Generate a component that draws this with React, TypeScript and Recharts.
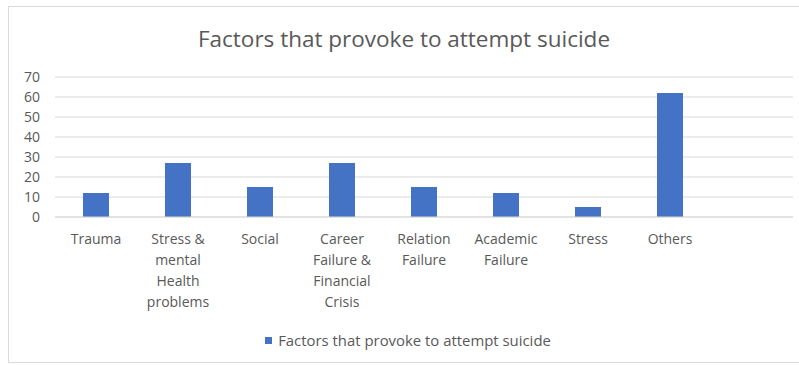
import { Bar, BarChart, CartesianGrid, Legend, Text, XAxis, YAxis } from "recharts";

const categories = [
  "Trauma",
  "Stress & mental Health problems",
  "Social",
  "Career Failure & Financial Crisis",
  "Relation Failure",
  "Academic Failure",
  "Stress",
  "Others",
  "",
];
const values: (number | null)[] = [12, 27, 15, 27, 15, 12, 5, 62, null];
const yTicks = [0, 10, 20, 30, 40, 50, 60, 70];

const seriesName = "Factors that provoke to attempt suicide";
const font = "'Open Sans', Lato, sans-serif";
const textColor = "#595959";
const barColor = "#4472C4";
const gridColor = "#d9d9d9";

const data = categories.map((name, i) => ({ name, value: values[i] }));

function CategoryTick(props: any) {
  const { x, y, payload } = props;
  return (
    <Text
      x={x}
      y={y}
      width={72}
      textAnchor="middle"
      verticalAnchor="start"
      lineHeight={21}
      fill={textColor}
      fontSize={14}
      fontFamily={font}
    >
      {payload.value}
    </Text>
  );
}

function LegendBox() {
  return (
    <div
      style={{
        height: 20,
        display: "flex",
        alignItems: "center",
        justifyContent: "center",
        paddingLeft: 14,
        fontFamily: font,
        fontSize: 14.9,
        color: textColor,
      }}
    >
      <span style={{ width: 7, height: 7, background: barColor, marginRight: 6 }} />
      {seriesName}
    </div>
  );
}

export default function App() {
  return (
    <div
      style={{
        position: "absolute",
        left: 8,
        top: 6,
        width: 791,
        height: 357,
        boxSizing: "border-box",
        borderTop: `1px solid ${gridColor}`,
        borderLeft: `1px solid ${gridColor}`,
        borderBottom: `1px solid ${gridColor}`,
        background: "#fff",
        overflow: "hidden",
      }}
    >
      <div
        style={{
          position: "absolute",
          top: 17,
          left: 0,
          width: 790,
          lineHeight: "30px",
          textAlign: "center",
          fontFamily: font,
          fontSize: 22.5,
          color: textColor,
        }}
      >
        {seriesName}
      </div>
      <BarChart
        width={790}
        height={355}
        data={data}
        margin={{ top: 70, right: 6, bottom: 12, left: 0 }}
      >
        <CartesianGrid vertical={false} stroke={gridColor} />
        <XAxis
          dataKey="name"
          interval={0}
          height={113}
          axisLine={{ stroke: gridColor }}
          tickLine={false}
          tick={<CategoryTick />}
          tickMargin={11}
        />
        <YAxis
          width={46}
          domain={[0, 70]}
          ticks={yTicks}
          interval={0}
          axisLine={false}
          tickLine={false}
          tickSize={0}
          tickMargin={15}
          tick={{ fill: textColor, fontSize: 14, fontFamily: font }}
        />
        <Legend verticalAlign="bottom" content={<LegendBox />} />
        <Bar dataKey="value" name={seriesName} fill={barColor} barSize={26} isAnimationActive={false} />
      </BarChart>
    </div>
  );
}
